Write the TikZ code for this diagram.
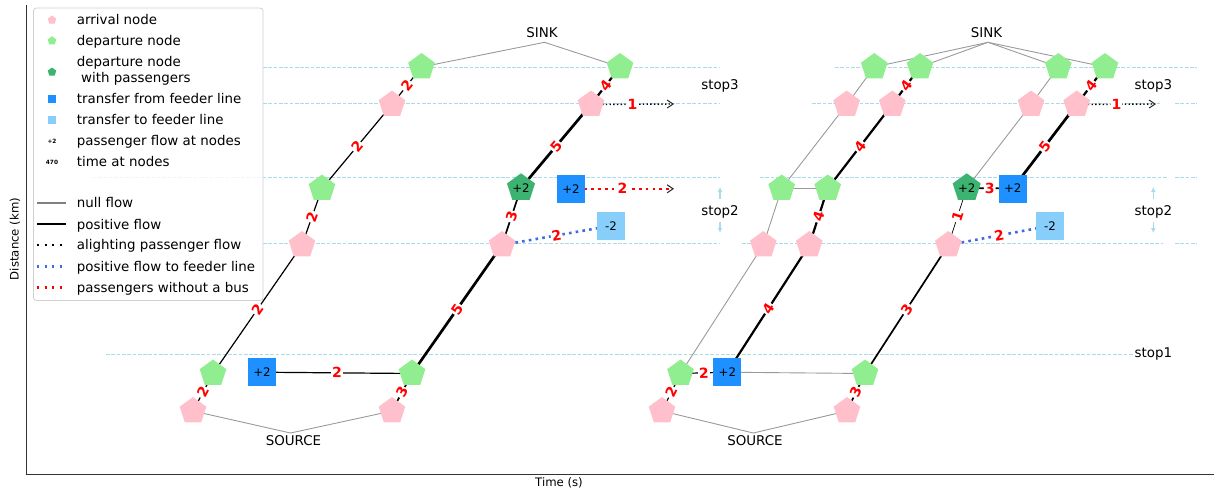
\documentclass[tikz,border=0pt]{standalone}
\usepackage{fontspec}
\setmainfont{DejaVu Sans}
\usetikzlibrary{shapes.geometric,arrows.meta}

\definecolor{arrpink}{HTML}{FFC0CB}
\definecolor{deplight}{HTML}{90EE90}
\definecolor{depdark}{HTML}{3CB371}
\definecolor{fromfeed}{HTML}{1E90FF}
\definecolor{tofeed}{HTML}{87CEFA}
\definecolor{stopcol}{HTML}{A8DCE8}
\definecolor{feedflow}{HTML}{4169E1}
\definecolor{nullgray}{HTML}{9A9A9A}
\definecolor{leggray}{HTML}{808080}
\definecolor{legframe}{HTML}{D0D0D0}

\pgfdeclarelayer{gridlayer}
\pgfdeclarelayer{edgelayer}
\pgfdeclarelayer{legendlayer}
\pgfsetlayers{gridlayer,edgelayer,main,legendlayer}

\newcommand{\txtfont}{\fontsize{13.4}{16}\selectfont}
\newcommand{\nodefont}{\fontsize{11.8}{14}\selectfont}
\newcommand{\lblfont}{\fontsize{14}{16}\selectfont\bfseries}
\newcommand{\axfont}{\fontsize{11.7}{14}\selectfont}
\newcommand{\tinyfont}{\fontsize{5.8}{7}\selectfont\bfseries}

\tikzset{
  pent/.style={regular polygon, regular polygon sides=5, minimum size=28pt,
    inner sep=0pt, outer sep=0pt, draw=none},
  arrnode/.style={pent, fill=arrpink},
  depnode/.style={pent, fill=deplight},
  paxnode/.style={pent, fill=depdark},
  nodetxt/.style={font=\nodefont, inner sep=0pt, text height=8.6pt, text depth=0pt},
  sqnode/.style={rectangle, minimum size=28pt, inner sep=0pt, draw=none, nodetxt},
  fromsq/.style={sqnode, fill=fromfeed},
  tosq/.style={sqnode, fill=tofeed},
  nullflow/.style={draw=nullgray, line width=0.9pt},
  flow/.style={draw=black, line width=0.5pt*#1+0.2pt},
  barb/.style={-{Straight Barb[length=6pt,width=8pt,line width=1pt,color=black!85]}},
  alight/.style={draw=black, line width=1.4pt, dash pattern=on 1.4pt off 2.3pt, barb},
  nobus/.style={draw=red, line width=2.6pt, dash pattern=on 2.6pt off 4.2pt, barb},
  tofeedflow/.style={draw=feedflow, line width=2.6pt, dash pattern=on 2.6pt off 4.2pt},
  lbl/.style={midway, sloped, fill=white, inner sep=1pt, text=red,
    font=\lblfont, text height=10.2pt, text depth=0pt},
  txt/.style={font=\txtfont, inner sep=0pt, text height=9.8pt, text depth=0pt},
  legtxt/.style={txt, anchor=west},
  stoplbl/.style={font=\txtfont, inner xsep=0pt, inner ysep=6pt, text height=9.8pt, text depth=0pt},
  stoparr/.style={draw=stopcol, line width=1.1pt, -{Latex[length=5pt,width=5pt]}},
  stopdash/.style={draw=stopcol, line width=1pt, dash pattern=on 3.7pt off 1.6pt},
  legdots/.style={line width=2.2pt, dash pattern=on 2pt off 5.5pt},
}

\begin{document}
\begin{tikzpicture}[x=1pt, y=-1pt]
\useasboundingbox (0,0) rectangle (1214,491);

% axes and their titles
\draw[black!80, line width=0.9pt] (26.5,5) -- (26.5,474) -- (1214,474);
\node[rotate=90, font=\axfont] (ylab) at (15,239) {Distance (km)};
\node[font=\axfont, text height=8.5pt, text depth=2.5pt, inner sep=0pt] (xlab) at (559,483) {Time (s)};

% stop levels
\begin{pgfonlayer}{gridlayer}
\draw[stopdash] (263,67) -- (720,67);
\draw[stopdash] (263,103.3) -- (720,103.3);
\draw[stopdash] (93,177) -- (720,177);
\draw[stopdash] (263,243.7) -- (720,243.7);
\draw[stopdash] (835,67) -- (1197,67);
\draw[stopdash] (812,103.3) -- (1160,103.3);
\draw[stopdash] (1175,103.3) -- (1197,103.3);
\draw[stopdash] (760,177) -- (1167,177);
\draw[stopdash] (1175,177) -- (1197,177);
\draw[stopdash] (742,243.7) -- (1163,243.7);
\draw[stopdash] (1175,243.7) -- (1197,243.7);
\draw[stopdash] (106,354) -- (1133,354);
\end{pgfonlayer}

% ---------------- first solution ----------------
\coordinate (Lsrc) at (290.5,433);
\coordinate (Lsink) at (544.5,42.3);
\coordinate (Lend3) at (674,104);
\coordinate (Lend2) at (674,188.8);
\node[txt] (LsrcT) at (293.5,440.5) {SOURCE};
\node[txt] (LsinkT) at (542,32.8) {SINK};

\node[arrnode] (La0)  at (193,411) {};
\node[arrnode] (La0b) at (392,411) {};
\node[depnode] (Ld1)  at (213,373.5) {};
\node[fromsq]  (Lt1)  at (262,372.2) {+2};
\node[depnode] (Ld1b) at (412,373.5) {};
\node[arrnode] (La2)  at (302,245) {};
\node[arrnode] (La2b) at (502,245) {};
\node[depnode] (Ld2)  at (322,188.5) {};
\node[paxnode, minimum size=29.5pt, label={[nodetxt]center:+2}] (Ld2b) at (521,188) {};
\node[fromsq]  (Lt2)  at (571,188.8) {+2};
\node[tosq]    (Lt2o) at (611,225.8) {-2};
\node[arrnode] (La3)  at (392,104.5) {};
\node[arrnode] (La3b) at (591,104.5) {};
\node[depnode] (Ld3)  at (421.5,67) {};
\node[depnode] (Ld3b) at (620,67) {};

\begin{pgfonlayer}{edgelayer}
\draw[nullflow] (La0.center) -- (Lsrc) -- (La0b.center);
\draw[nullflow] (Ld3.center) -- (Lsink) -- (Ld3b.center);
\draw[flow=2] (La0.center) -- node[lbl]{2} (Ld1.center);
\draw[flow=2] (Lt1.center) -- node[lbl]{2} (Ld1b.center);
\draw[flow=3] (La0b.center) -- node[lbl]{3} (Ld1b.center);
\draw[flow=2] (Ld1.center) -- node[lbl]{2} (La2.center);
\draw[flow=5] (Ld1b.center) -- node[lbl]{5} (La2b.center);
\draw[flow=2] (La2.center) -- node[lbl]{2} (Ld2.center);
\draw[flow=3] (La2b.center) -- node[lbl]{3} (Ld2b.center);
\draw[tofeedflow] (La2b.center) -- node[lbl]{2} (Lt2o.center);
\draw[flow=2] (Ld2.center) -- node[lbl]{2} (La3.center);
\draw[flow=5] (Ld2b.center) -- node[lbl]{5} (La3b.center);
\draw[nobus] (Lt2.center) -- node[lbl]{2} (Lend2);
\draw[flow=2] (La3.center) -- node[lbl]{2} (Ld3.center);
\draw[flow=4] (La3b.center) -- node[lbl]{4} (Ld3b.center);
\draw[alight] (La3b.center) -- node[lbl]{1} (Lend3);
\end{pgfonlayer}

\node[stoplbl] (Ls3) at (720,84.2) {stop3};
\node[stoplbl] (Ls2) at (720,210.5) {stop2};
\coordinate (Ls2up) at (720,187);
\coordinate (Ls2dn) at (720,233);
\draw[stoparr] (Ls2.north) -- (Ls2up);
\draw[stoparr] (Ls2.south) -- (Ls2dn);

% ---------------- second solution ----------------
\coordinate (Rsrc) at (753.3,433);
\coordinate (Rsink) at (988,42.3);
\coordinate (Rend3) at (1156,104);
\node[txt] (RsrcT) at (755,440.5) {SOURCE};
\node[txt] (RsinkT) at (986.5,32.8) {SINK};

\node[arrnode] (Ra0)  at (662,411) {};
\node[arrnode] (Ra0b) at (847,411) {};
\node[depnode] (Rd1)  at (680.5,373.5) {};
\node[fromsq]  (Rt1)  at (727.3,372.2) {+2};
\node[depnode] (Rd1b) at (865,373.5) {};
\node[arrnode] (Ra2)  at (763.3,245) {};
\node[arrnode] (Ra2c) at (809.3,245) {};
\node[arrnode] (Ra2b) at (948.3,245) {};
\node[depnode] (Rd2)  at (781.7,188.5) {};
\node[depnode] (Rd2c) at (827.7,188.5) {};
\node[paxnode, minimum size=29.5pt, label={[nodetxt]center:+2}] (Rd2b) at (966.7,188) {};
\node[fromsq]  (Rt2)  at (1012.7,188.5) {+2};
\node[tosq]    (Rt2o) at (1050,225.8) {-2};
\node[arrnode] (Ra3)  at (846.7,104.5) {};
\node[arrnode] (Ra3c) at (892.3,104.5) {};
\node[arrnode] (Ra3d) at (1031,104.5) {};
\node[arrnode] (Ra3b) at (1076.7,104.5) {};
\node[depnode] (Rd3)  at (874.3,67) {};
\node[depnode] (Rd3c) at (920,67) {};
\node[depnode] (Rd3d) at (1058.3,67) {};
\node[depnode] (Rd3b) at (1105,67) {};

\begin{pgfonlayer}{edgelayer}
\draw[nullflow] (Ra0.center) -- (Rsrc) -- (Ra0b.center);
\draw[nullflow] (Rd3.center) -- (Rsink);
\draw[nullflow] (Rd3c.center) -- (Rsink);
\draw[nullflow] (Rd3d.center) -- (Rsink);
\draw[nullflow] (Rd3b.center) -- (Rsink);
\draw[flow=2] (Ra0.center) -- node[lbl]{2} (Rd1.center);
\draw[flow=2] (Rd1.center) -- node[lbl]{2} (Rt1.center);
\draw[nullflow] (Rt1.center) -- (Rd1b.center);
\draw[flow=3] (Ra0b.center) -- node[lbl]{3} (Rd1b.center);
\draw[nullflow] (Rd1.center) -- (Ra2.center);
\draw[flow=4] (Rt1.center) -- node[lbl]{4} (Ra2c.center);
\draw[flow=3] (Rd1b.center) -- node[lbl]{3} (Ra2b.center);
\draw[nullflow] (Ra2.center) -- (Rd2.center);
\draw[nullflow] (Rd2.center) -- (Rd2c.center);
\draw[flow=4] (Ra2c.center) -- node[lbl]{4} (Rd2c.center);
\draw[flow=1] (Ra2b.center) -- node[lbl]{1} (Rd2b.center);
\draw[tofeedflow] (Ra2b.center) -- node[lbl]{2} (Rt2o.center);
\draw[flow=3] (Rd2b.center) -- node[lbl]{3} (Rt2.center);
\draw[nullflow] (Rd2.center) -- (Ra3.center);
\draw[flow=4] (Rd2c.center) -- node[lbl]{4} (Ra3c.center);
\draw[nullflow] (Rd2b.center) -- (Ra3d.center);
\draw[flow=5] (Rt2.center) -- node[lbl]{5} (Ra3b.center);
\draw[nullflow] (Ra3.center) -- (Rd3.center);
\draw[flow=4] (Ra3c.center) -- node[lbl]{4} (Rd3c.center);
\draw[nullflow] (Ra3d.center) -- (Rd3d.center);
\draw[flow=4] (Ra3b.center) -- node[lbl]{4} (Rd3b.center);
\draw[alight] (Ra3b.center) -- node[lbl]{1} (Rend3);
\end{pgfonlayer}

\node[stoplbl] (Rs3) at (1153.3,84.2) {stop3};
\node[stoplbl] (Rs2) at (1153.3,210.5) {stop2};
\node[stoplbl] (Rs1) at (1153.3,353) {stop1};
\coordinate (Rs2up) at (1153.3,187);
\coordinate (Rs2dn) at (1153.3,233);
\draw[stoparr] (Rs2.north) -- (Rs2up);
\draw[stoparr] (Rs2.south) -- (Rs2dn);

% ---------------- legend ----------------
\begin{pgfonlayer}{legendlayer}
\draw[draw=legframe, line width=0.8pt, fill=white, fill opacity=0.8, rounded corners=3pt]
  (33.5,8) rectangle (263,300.5);
\node[arrnode, minimum size=9pt] (kA) at (52,20) {};
\node[legtxt] (tA) at (76.7,19.3) {arrival node};
\node[depnode, minimum size=9pt] (kB) at (52,40.8) {};
\node[legtxt] (tB) at (76.7,40.3) {departure node};
\node[paxnode, minimum size=9pt] (kC) at (52,72) {};
\node[legtxt] (tC1) at (76.7,61.3) {departure node};
\node[legtxt] (tC2) at (81,77.5) {with passengers};
\node[fill=fromfeed, minimum size=8.5pt, inner sep=0pt] (kD) at (52,99) {};
\node[legtxt] (tD) at (76.7,98.3) {transfer from feeder line};
\node[fill=tofeed, minimum size=8.5pt, inner sep=0pt] (kE) at (52,120) {};
\node[legtxt] (tE) at (76.7,119.3) {transfer to feeder line};
\node[font=\tinyfont, inner sep=0pt] (kF) at (52,141) {+2};
\node[legtxt] (tF) at (76.7,140.7) {passenger flow at nodes};
\node[font=\tinyfont, inner sep=0pt] (kG) at (52,162) {470};
\node[legtxt] (tG) at (76.7,161.7) {time at nodes};
\coordinate (kH1) at (37,203); \coordinate (kH2) at (66,203);
\draw[draw=leggray, line width=2pt] (kH1) -- (kH2);
\node[legtxt] (tH) at (76.7,203) {null flow};
\coordinate (kI1) at (37,224); \coordinate (kI2) at (66,224);
\draw[draw=black, line width=2.6pt] (kI1) -- (kI2);
\node[legtxt] (tI) at (76.7,224.2) {positive flow};
\coordinate (kJ1) at (37,245); \coordinate (kJ2) at (63,245);
\draw[draw=black, legdots] (kJ1) -- (kJ2);
\node[legtxt] (tJ) at (76.7,245) {alighting passenger flow};
\coordinate (kK1) at (37,266.5); \coordinate (kK2) at (63,266.5);
\draw[draw=feedflow, legdots] (kK1) -- (kK2);
\node[legtxt] (tK) at (76.7,266.3) {positive flow to feeder line};
\coordinate (kL1) at (37,287.5); \coordinate (kL2) at (63,287.5);
\draw[draw=red, legdots] (kL1) -- (kL2);
\node[legtxt] (tL) at (76.7,287.3) {passengers without a bus};
\end{pgfonlayer}
\end{tikzpicture}
\end{document}
